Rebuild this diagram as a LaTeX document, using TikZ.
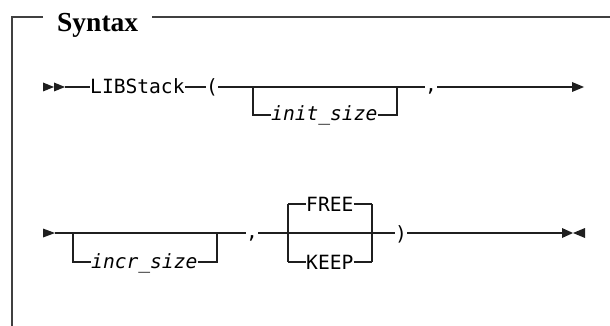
\documentclass[tikz,border=0pt]{standalone}
\usepackage{fontspec}
\setmainfont{Liberation Serif}
\newfontfamily\railfont{DejaVu Sans Mono}
\usetikzlibrary{calc}

\begin{document}
\begin{tikzpicture}[x=1pt,y=-1pt,
  frameline/.style={line width=1.4pt, draw=black!75},
  rail/.style={line width=1.2pt, draw=black!88},
  railtip/.style={fill=black!88, draw=none},
  kw/.style={font=\railfont\fontsize{19.6}{23}\selectfont, inner sep=0pt, text=black},
  var/.style={font=\railfont\itshape\fontsize{19.6}{23}\selectfont, inner sep=0pt, text=black},
  title/.style={font=\bfseries\fontsize{27.5}{30}\selectfont, inner sep=0pt, text=black}
]
\useasboundingbox (0,0) rectangle (610,326);

% ---- frame with heading ----
\node[title, anchor=base west] (ttl) at (57,32) {Syntax};
\coordinate (fTL) at (12,17);
\coordinate (fBL) at (12,326);
\coordinate (fTR) at (610,17);
\draw[frameline] (ttl.west |- fTL) ++(-14,0) -- (fTL) -- (fBL);
\draw[frameline] (ttl.east |- fTL) ++(14,0) -- (fTR);

% ---- rail levels ----
\coordinate (r1) at (0,87);
\coordinate (b1) at (0,115);
\coordinate (r2) at (0,233);
\coordinate (b2) at (0,262);
\coordinate (u2) at (0,204);

% ---- first line ----
\coordinate (s1) at (65,87);
\fill[railtip] (43,82.5) -- (54,87) -- (43,91.5) -- cycle;
\fill[railtip] (54,82.5) -- (65,87) -- (54,91.5) -- cycle;

\node[kw, anchor=base west] (lib) at (90,94) {LIBStack};
\node[kw, anchor=base] (lp) at (212,94) {(};
\node[var, anchor=base west] (init) at (271,121) {init\_size};
\node[kw, anchor=base] (c1) at (431,92) {,};
\coordinate (e1) at (572,87);
\coordinate (j1a) at (253,87);
\coordinate (j1b) at (397,87);

\draw[rail] (s1) -- (lib.west |- r1);
\draw[rail] (lib.east |- r1) -- (lp.west |- r1);
\draw[rail] (lp.east |- r1) -- (c1.west |- r1);
\draw[rail] (j1a) |- (init.west |- b1);
\draw[rail] (init.east |- b1) -| (j1b);
\draw[rail] (c1.east |- r1) -- (e1);
\fill[railtip] (572,82) -- (584,87) -- (572,92) -- cycle;

% ---- second line ----
\coordinate (s2) at (55,233);
\fill[railtip] (43,228.5) -- (55,233) -- (43,237.5) -- cycle;

\node[var, anchor=base west] (incr) at (91,268) {incr\_size};
\node[kw, anchor=base] (c2) at (252,238) {,};
\node[kw, anchor=base west] (free) at (306,211) {FREE};
\node[kw, anchor=base west] (keep) at (306,269) {KEEP};
\node[kw, anchor=base] (rp) at (401,240) {)};
\coordinate (j2a) at (73,233);
\coordinate (j2b) at (217,233);
\coordinate (k2a) at (288,233);
\coordinate (k2b) at (372,233);
\coordinate (e2) at (562,233);

\draw[rail] (s2) -- (c2.west |- r2);
\draw[rail] (j2a) |- (incr.west |- b2);
\draw[rail] (incr.east |- b2) -| (j2b);
\draw[rail] (c2.east |- r2) -- (rp.west |- r2);
\draw[rail] (k2a |- u2) -- (k2a |- b2);
\draw[rail] (k2b |- u2) -- (k2b |- b2);
\draw[rail] (k2a |- u2) -- (free.west |- u2);
\draw[rail] (free.east |- u2) -- (k2b |- u2);
\draw[rail] (k2a |- b2) -- (keep.west |- b2);
\draw[rail] (keep.east |- b2) -- (k2b |- b2);
\draw[rail] (rp.east |- r2) -- (e2);
\fill[railtip] (562,228) -- (573,233) -- (562,238) -- cycle;
\fill[railtip] (585,228) -- (573,233) -- (585,238) -- cycle;
\end{tikzpicture}
\end{document}
